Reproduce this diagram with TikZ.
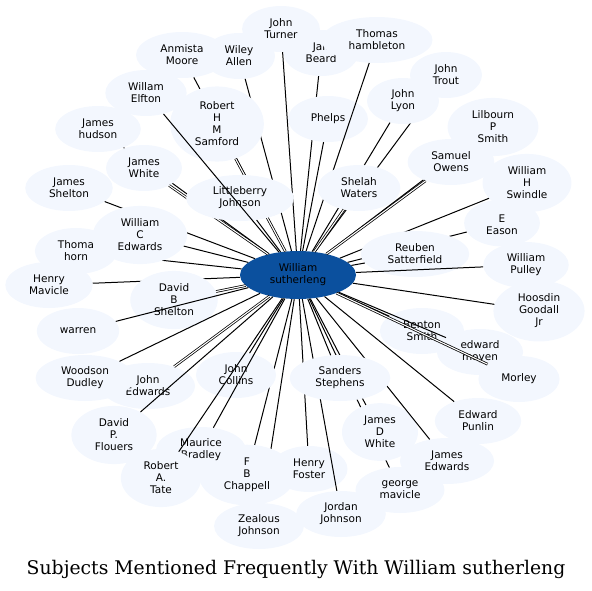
\documentclass[tikz,border=0pt]{standalone}
\usepackage{fontspec}
\setmainfont{DejaVu Sans}
\newfontfamily\titlefont{DejaVu Serif}
\usepackage{tikz}
\usetikzlibrary{shapes.geometric}

\definecolor{leafblue}{RGB}{243,247,254}
\definecolor{hubblue}{RGB}{11,80,158}

\begin{document}
\begin{tikzpicture}[x=1pt,y=-1pt]

		\tikzstyle{leaf}=[ellipse,fill=leafblue,text=black,align=center,
			inner xsep=11pt,inner ysep=4.5pt,minimum width=72pt,minimum height=46pt,
			font=\fontsize{10.5}{12}\selectfont]
		\tikzstyle{hub}=[ellipse,fill=hubblue,text=black,align=center,
			minimum width=116pt,minimum height=48pt,inner sep=2pt,
			font=\fontsize{10.5}{12}\selectfont]
		\tikzstyle{link}=[draw=black,line width=1pt]
		\tikzstyle{twin}=[link,double=white,double distance=1.1pt,line width=0.75pt]

		\useasboundingbox (0,0) rectangle (592,590);

		\node[hub] (ws) at (298,275) {William\\sutherleng};

		\node[leaf] (beard)    at (321,53)  {Jar.\\Beard};
		\path (ws) edge[link] (beard);
		\node[leaf] (phelps)   at (328,119) {Phelps};
		\path (ws) edge[link] (phelps);
		\node[leaf] (turner)   at (281,29)  {John\\Turner};
		\path (ws) edge[link] (turner);
		\node[leaf] (hamble)   at (377,40)  {Thomas\\hambleton};
		\path (ws) edge[link] (hamble);
		\node[leaf] (anmista)  at (182,55)  {Anmista\\Moore};
		\path (ws) edge[link] (anmista);
		\node[leaf] (wiley)    at (239,56)  {Wiley\\Allen};
		\path (ws) edge[link] (wiley);
		\node[leaf] (trout)    at (446,75)  {John\\Trout};
		\path (ws) edge[link] (trout);
		\node[leaf] (lyon)     at (403,101) {John\\Lyon};
		\path (ws) edge[link] (lyon);
		\node[leaf] (lilbourn) at (493,127) {Lilbourn\\P\\Smith};
		\path (ws) edge[link] (lilbourn);
		\node[leaf] (shelah)   at (359,188) {Shelah\\Waters};
		\path (ws) edge[twin] (shelah);
		\node[leaf] (owens)    at (451,162) {Samuel\\Owens};
		\path (ws) edge[twin] (owens);
		\node[leaf] (hudson)   at (98,129)  {James\\hudson};
		\path (ws) edge[link] (hudson);
		\node[leaf] (jwhite)   at (144,168) {James\\White};
		\path (ws) edge[twin] (jwhite);
		\node[leaf] (samford)  at (217,124) {Robert\\H\\M\\Samford};
		\path (ws) edge[twin] (samford);
		\node[leaf] (littleb)  at (240,198) {Littleberry\\Johnson};
		\path (ws) edge[link] (littleb);
		\node[leaf] (elfton)   at (146,93)  {Willam\\Elfton};
		\path (ws) edge[link] (elfton);
		\node[leaf] (eason)    at (502,223) {\mbox{}\\E\\Eason};
		\path (ws) edge[link] (eason);
		\node[leaf] (swindle)  at (527,183) {William\\H\\Swindle};
		\path (ws) edge[link] (swindle);
		\node[leaf] (reuben)   at (415,254) {Reuben\\Satterfield};
		\path (ws) edge[link] (reuben);
		\node[leaf] (pulley)   at (526,265) {William\\Pulley};
		\path (ws) edge[link] (pulley);
		\node[leaf] (hoosdin)  at (539,311) {Hoosdin\\Goodall\\Jr};
		\path (ws) edge[link] (hoosdin);
		\node[leaf] (jshelton) at (69,188)  {James\\Shelton};
		\path (ws) edge[link] (jshelton);
		\node[leaf] (thoma)    at (76,251)  {Thoma\\horn};
		\path (ws) edge[link] (thoma);
		\node[leaf] (wcedw)    at (140,235) {William\\C\\Edwards};
		\path (ws) edge[link] (wcedw);
		\node[leaf] (hmavicle) at (49,285)  {Henry\\Mavicle};
		\path (ws) edge[link] (hmavicle);
		\node[leaf] (dshelton) at (174,300) {David\\B\\Shelton};
		\path (ws) edge[twin] (dshelton);
		\node[leaf] (warren)   at (78,331)  {warren};
		\path (ws) edge[link] (warren);
		\node[leaf] (jedwards) at (148,386) {John\\Edwards};
		\path (ws) edge[twin] (jedwards);
		\node[leaf] (woodson)  at (85,378)  {Woodson\\Dudley};
		\path (ws) edge[link] (woodson);
		\node[leaf] (flouers)  at (114,435) {David\\P.\\Flouers};
		\path (ws) edge[link] (flouers);
		\node[leaf] (zealous)  at (259,526) {Zealous\\Johnson};
		\path (ws) edge[link] (zealous);
		\node[leaf] (chappell) at (247,475) {F\\B\\Chappell};
		\path (ws) edge[link] (chappell);
		\node[leaf] (collins)  at (236,375) {John\\Collins};
		\path (ws) edge[link] (collins);
		\node[leaf] (maurice)  at (201,450) {Maurice\\Bradley};
		\path (ws) edge[link] (maurice);
		\node[leaf] (tate)     at (161,478) {Robert\\A.\\Tate};
		\path (ws) edge[link] (tate);
		\node[leaf] (foster)   at (309,469) {Henry\\Foster};
		\path (ws) edge[link] (foster);
		\node[leaf] (jordan)   at (341,514) {Jordan\\Johnson};
		\path (ws) edge[link] (jordan);
		\node[leaf] (gmavicle) at (400,490) {george\\mavicle};
		\path (ws) edge[link] (gmavicle);
		\node[leaf] (jdwhite)  at (380,432) {James\\D\\White};
		\path (ws) edge[link] (jdwhite);
		\node[leaf] (jamesedw) at (447,461) {James\\Edwards};
		\path (ws) edge[link] (jamesedw);
		\node[leaf] (sanders)  at (340,378) {Sanders\\Stephens};
		\path (ws) edge[link] (sanders);
		\node[leaf] (punlin)   at (478,421) {Edward\\Punlin};
		\path (ws) edge[link] (punlin);
		\node[leaf] (benton)   at (422,331) {Benton\\Smith};
		\path (ws) edge[link] (benton);
		\node[leaf] (moyen)    at (480,352) {edward\\moyen};
		\path (ws) edge[link] (moyen);
		\node[leaf] (morley)   at (519,379) {Morley};
		\path (ws) edge[twin] (morley);

		\node[font=\titlefont\fontsize{18.8}{22}\selectfont] (title) at (296,569)
			{Subjects Mentioned Frequently With William sutherleng};

	\end{tikzpicture}
\end{document}
